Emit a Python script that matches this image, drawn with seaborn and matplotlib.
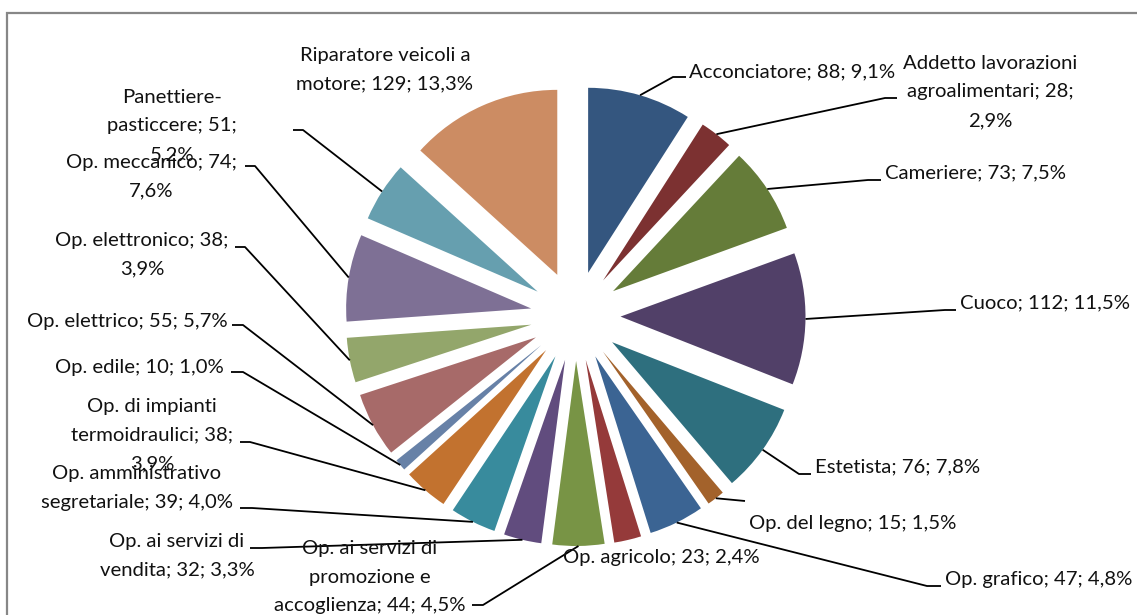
import textwrap
import numpy as np
import matplotlib
matplotlib.use("Agg")
import matplotlib.pyplot as plt
from matplotlib.patches import Rectangle
import seaborn as sns

# ---------------- data ----------------
categories = [
    "Acconciatore", "Addetto lavorazioni agroalimentari", "Cameriere", "Cuoco",
    "Estetista", "Op. del legno", "Op. grafico", "Op. agricolo",
    "Op. ai servizi di promozione e accoglienza", "Op. ai servizi di vendita",
    "Op. amministrativo segretariale", "Op. di impianti termoidraulici",
    "Op. edile", "Op. elettrico", "Op. elettronico", "Op. meccanico",
    "Panettiere-pasticcere", "Riparatore veicoli a motore",
]
values = [88, 28, 73, 112, 76, 15, 47, 23, 44, 32, 39, 38, 10, 55, 38, 74, 51, 129]
percent_labels = ["9,1%", "2,9%", "7,5%", "11,5%", "7,8%", "1,5%", "4,8%", "2,4%",
                  "4,5%", "3,3%", "4,0%", "3,9%", "1,0%", "5,7%", "3,9%", "7,6%",
                  "5,2%", "13,3%"]
colors = ["#34567F", "#7C3131", "#657C39", "#514068", "#2E6F7E", "#A3622B",
          "#3B6493", "#953A3A", "#789445", "#614C7E", "#388B9D", "#C2722F",
          "#6781A7", "#A76A69", "#93A66B", "#7E7095", "#669FAF", "#CC8C63"]

# ---------------- layout (image pixel coords, y down) ----------------
W, H = 1137, 615
CX, CY, R = 575.5, 316.0, 185.0
EXPLODE = 45.0  # absolute offset in data units
# (text x, text y, ha, wrap width, leader elbow, leader end)
layout = [
    (689, 72, "left", 100, (673, 77), (686, 77)),
    (990, 92, "center", 19, (885, 98), (897, 98)),
    (885, 173, "left", 100, (868, 180), (881, 180)),
    (960, 303, "left", 100, (945, 310), (956, 310)),
    (815, 467, "left", 100, (799, 474), (811, 474)),
    (749, 523, "left", 100, (745, 501), (745, 501)),
    (945, 580, "left", 100, (927, 586), (941, 586)),
    (563, 557, "left", 100, None, None),
    (370, 577, "center", 21, (483, 605), (472, 605)),
    (177, 556, "center", 17, (262, 548), (250, 548)),
    (137, 488, "center", 22, (252, 508), (240, 508)),
    (152, 435, "center", 19, (250, 442), (240, 442)),
    (224, 367, "right", 100, (243, 372), (231, 372)),
    (228, 322, "right", 100, (243, 325), (232, 325)),
    (142, 255, "center", 20, (245, 247), (235, 247)),
    (151, 177, "center", 18, (255, 166), (245, 166)),
    (172, 126, "center", 15, (303, 130), (293, 130)),
    (385, 70, "center", 20, None, None),
]

sns.set_theme(style="white")
plt.rcParams["font.family"] = ["Lato", "DejaVu Sans"]

fig = plt.figure(figsize=(W / 100, H / 100), dpi=100)
fig.patch.set_facecolor("white")
ax = fig.add_axes([0, 0, 1, 1])

palette = sns.color_palette(colors)
wedges, _ = ax.pie(values, colors=palette, startangle=90, counterclock=False,
                   radius=R, center=(CX, H - CY), explode=[EXPLODE] * len(values),
                   wedgeprops=dict(linewidth=0), frame=True)
ax.set_xlim(0, W)
ax.set_ylim(0, H)
ax.set_aspect("equal")
ax.axis("off")

for i, (name, val, pct) in enumerate(zip(categories, values, percent_labels)):
    tx, ty, ha, wrapw, elbow, end = layout[i]
    full = f"{name}; {val}; {pct}"
    txt = "\n".join(textwrap.wrap(full, width=wrapw))
    ax.text(tx, H - ty, txt, ha=ha, va="center", multialignment="center",
            fontsize=14.6, color="#111111", linespacing=1.82, zorder=5)
    if elbow is not None:
        w = wedges[i]
        th = np.deg2rad((w.theta1 + w.theta2) / 2)
        cx, cy = w.center
        px, py = cx + w.r * np.cos(th), cy + w.r * np.sin(th)
        ax.plot([px, elbow[0], end[0]], [py, H - elbow[1], H - end[1]],
                color="black", lw=1.3, solid_capstyle="butt", zorder=4)

# chart area frame (extends past right/bottom edges)
fig.patches.append(Rectangle((7 / W, -0.1), 1.2, 1 - 13 / H + 0.1,
                             transform=fig.transFigure, fill=False,
                             edgecolor="#878787", linewidth=1.6))

fig.savefig("out.png", dpi=100, facecolor="white")
